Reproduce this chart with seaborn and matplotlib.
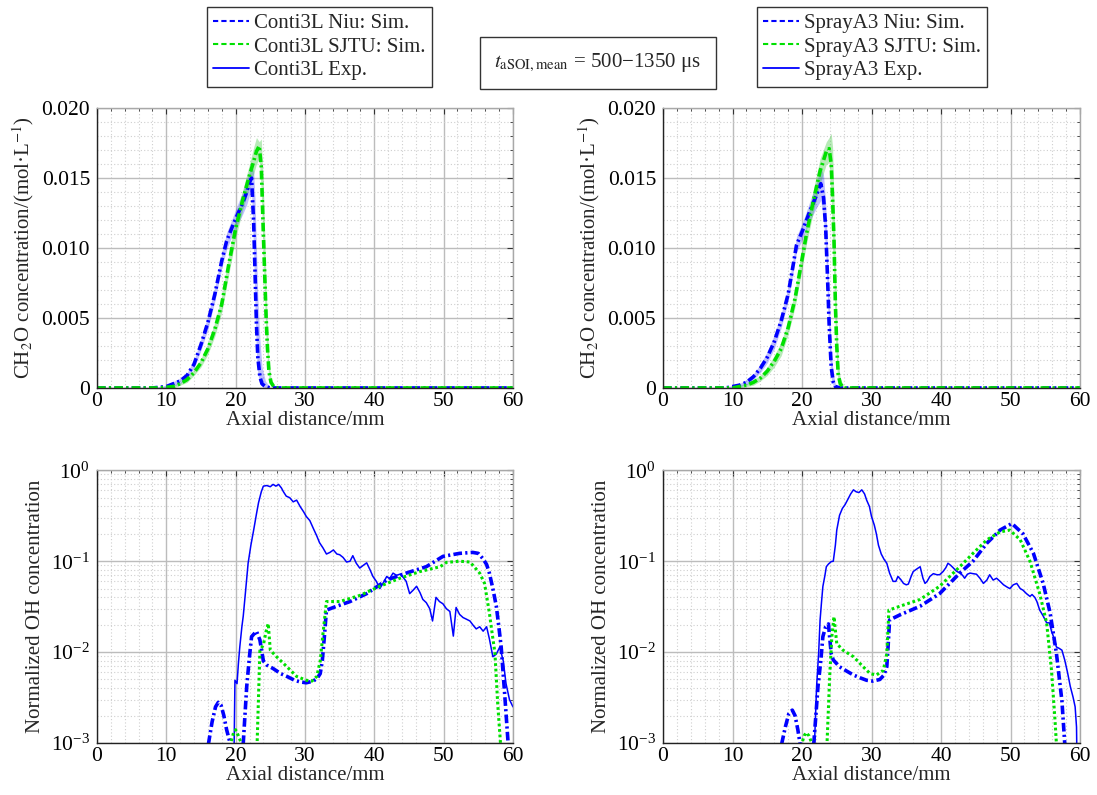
import matplotlib
matplotlib.use("Agg")
import matplotlib.pyplot as plt
import seaborn as sns
from matplotlib.lines import Line2D
from matplotlib.ticker import MultipleLocator, LogLocator, NullFormatter, FuncFormatter

# ---------------- data: CH2O (top row) ----------------
cl_niu_x = [0, 8, 10, 12, 13, 14, 15, 16, 17, 18, 18.7, 19.5, 20.1, 21.0, 21.6, 22.0, 22.3, 22.6, 22.8, 23.0, 23.2, 23.5, 23.8, 24.3, 25, 60]
cl_niu_y = [0, 0, 0.0001, 0.0005, 0.0009, 0.0017, 0.0031, 0.0047, 0.0067, 0.0091, 0.0105, 0.0115, 0.0122, 0.0132, 0.0140, 0.0147, 0.0150, 0.0118, 0.0082, 0.0046, 0.0022, 0.0008, 0.0003, 0.0001, 0, 0]
cl_niu_hi = [0, 0, 0.0002, 0.0007, 0.0011, 0.0020, 0.0035, 0.0052, 0.0072, 0.0096, 0.0111, 0.0121, 0.0129, 0.0140, 0.0149, 0.0155, 0.0159, 0.0155, 0.0135, 0.0100, 0.0065, 0.0035, 0.0015, 0.0005, 0, 0]
cl_niu_lo = [0, 0, 0, 0.0003, 0.0007, 0.0014, 0.0027, 0.0042, 0.0062, 0.0086, 0.0099, 0.0109, 0.0115, 0.0124, 0.0131, 0.0138, 0.0140, 0.0095, 0.0055, 0.0025, 0.0010, 0.0003, 0.0001, 0, 0, 0]

cl_sjtu_x = [0, 9, 11, 12, 13, 14, 15, 16, 17, 18, 19, 20, 21, 22, 22.6, 23.0, 23.4, 23.7, 24.0, 24.2, 24.4, 24.6, 24.8, 25.1, 25.5, 26, 60]
cl_sjtu_y = [0, 0, 0.0001, 0.0003, 0.0006, 0.0011, 0.0018, 0.0028, 0.0042, 0.0060, 0.0088, 0.0114, 0.0134, 0.0152, 0.0162, 0.0169, 0.0173, 0.0158, 0.0110, 0.0080, 0.0050, 0.0028, 0.0012, 0.0004, 0.0001, 0, 0]
cl_sjtu_hi = [0, 0, 0.0002, 0.0004, 0.0008, 0.0013, 0.0021, 0.0032, 0.0047, 0.0066, 0.0095, 0.0121, 0.0141, 0.0160, 0.0172, 0.0179, 0.0176, 0.0178, 0.0145, 0.0108, 0.0072, 0.0042, 0.0020, 0.0007, 0.0002, 0, 0]
cl_sjtu_lo = [0, 0, 0, 0.0002, 0.0004, 0.0009, 0.0015, 0.0024, 0.0037, 0.0054, 0.0081, 0.0107, 0.0127, 0.0144, 0.0153, 0.0160, 0.0164, 0.0140, 0.0090, 0.0060, 0.0034, 0.0018, 0.0007, 0.0002, 0, 0, 0]

sa_niu_x = [0, 9, 10, 11, 12, 13, 14, 15, 16, 17, 18, 18.8, 19.2, 20.2, 21.1, 22.1, 22.7, 23.1, 23.4, 23.7, 23.9, 24.2, 24.5, 24.8, 25.5, 60]
sa_niu_y = [0, 0, 0.0001, 0.0002, 0.0004, 0.0008, 0.0014, 0.0022, 0.0033, 0.0048, 0.0067, 0.0090, 0.0102, 0.0114, 0.0126, 0.0138, 0.0146, 0.0136, 0.0115, 0.0075, 0.0046, 0.0015, 0.0004, 0.0001, 0, 0]
sa_niu_hi = [0, 0, 0.0002, 0.0003, 0.0006, 0.0010, 0.0017, 0.0026, 0.0038, 0.0053, 0.0072, 0.0095, 0.0108, 0.0120, 0.0133, 0.0147, 0.0158, 0.0152, 0.0132, 0.0095, 0.0062, 0.0026, 0.0010, 0.0003, 0, 0]
sa_niu_lo = [0, 0, 0, 0.0001, 0.0002, 0.0006, 0.0011, 0.0018, 0.0028, 0.0043, 0.0062, 0.0085, 0.0097, 0.0108, 0.0119, 0.0129, 0.0134, 0.0120, 0.0098, 0.0058, 0.0032, 0.0007, 0.0001, 0, 0, 0]

sa_sjtu_x = [0, 10, 11, 12, 13, 14, 15, 16, 17, 18, 19, 20, 20.6, 21.6, 22.6, 23.5, 23.9, 24.2, 24.4, 24.6, 24.8, 25.0, 25.2, 25.5, 26, 60]
sa_sjtu_y = [0, 0, 0.0001, 0.0002, 0.0004, 0.0007, 0.0012, 0.0019, 0.0028, 0.0043, 0.0064, 0.0092, 0.0109, 0.0133, 0.0155, 0.0169, 0.0171, 0.0160, 0.0135, 0.0106, 0.0060, 0.0030, 0.0010, 0.0003, 0, 0]
sa_sjtu_hi = [0, 0, 0.0002, 0.0003, 0.0006, 0.0009, 0.0015, 0.0023, 0.0033, 0.0048, 0.0070, 0.0099, 0.0116, 0.0141, 0.0164, 0.0176, 0.0179, 0.0182, 0.0172, 0.0135, 0.0090, 0.0050, 0.0020, 0.0007, 0.0001, 0]
sa_sjtu_lo = [0, 0, 0, 0.0001, 0.0002, 0.0005, 0.0009, 0.0015, 0.0023, 0.0038, 0.0058, 0.0085, 0.0102, 0.0125, 0.0146, 0.0160, 0.0161, 0.0136, 0.0100, 0.0075, 0.0036, 0.0015, 0.0004, 0.0001, 0, 0]

# ---------------- data: normalized OH (bottom row) ----------------
cl_exp_x = [19.6, 19.8, 19.9, 20.2, 20.4, 20.6, 20.9, 21.1, 21.4, 21.8, 22.2, 22.6, 23.0, 23.3, 23.7, 24.0, 24.5, 25.0, 25.4, 25.8,
            26.2, 26.6, 26.9, 27.3, 27.8, 28.3, 28.8, 29.3, 29.8, 30.2, 30.7, 31.2, 31.7, 32.1, 32.6, 33.1, 33.6, 34.1, 34.6, 35.0,
            35.5, 36.0, 36.5, 36.9, 37.4, 37.9, 38.4, 38.9, 39.4, 39.8, 40.3, 40.8, 41.3, 41.8, 42.2, 42.7, 43.2, 43.7, 44.2, 44.6,
            45.1, 45.6, 46.1, 46.6, 47.0, 47.5, 48.0, 48.4, 48.9, 49.4, 49.9, 50.4, 50.9, 51.4, 51.8, 52.3, 52.8, 53.3, 53.8, 54.2,
            54.7, 55.2, 55.7, 56.2, 56.6, 57.1, 57.6, 58.1, 58.6, 59.0, 59.5, 60.0]
cl_exp_y = [1e-4, 0.0012, 0.0049, 0.0045, 0.0075, 0.0114, 0.019, 0.025, 0.044, 0.095, 0.15, 0.22, 0.33, 0.44, 0.58, 0.67, 0.68, 0.66, 0.70, 0.67,
            0.70, 0.64, 0.58, 0.52, 0.50, 0.45, 0.47, 0.40, 0.35, 0.31, 0.28, 0.23, 0.19, 0.16, 0.14, 0.12, 0.125, 0.133, 0.12, 0.118,
            0.11, 0.098, 0.100, 0.115, 0.095, 0.084, 0.090, 0.096, 0.080, 0.068, 0.060, 0.050, 0.058, 0.068, 0.064, 0.074, 0.070, 0.072, 0.066, 0.060,
            0.044, 0.048, 0.053, 0.045, 0.038, 0.035, 0.030, 0.022, 0.040, 0.036, 0.034, 0.030, 0.028, 0.015, 0.031, 0.026, 0.024, 0.023, 0.022, 0.020,
            0.018, 0.019, 0.017, 0.019, 0.014, 0.0089, 0.0095, 0.0114, 0.0080, 0.0045, 0.0030, 0.0025]

cl_oh_niu_x = [15.8, 16.1, 16.6, 17.1, 17.5, 17.9, 18.3, 18.7, 19.2, 19.5, 20.8, 21.1, 21.6, 22.0, 22.3, 22.7, 23.0, 23.5, 24.0, 24.5,
               25.4, 26.5, 27.4, 28.5, 29.3, 30.2, 31.2, 31.8, 32.2, 32.5, 32.8, 33.1, 34.6, 36.5, 38.9, 41.8, 44.6, 47.5, 49.9, 52.3,
               54.2, 55.0, 55.7, 56.2, 56.6, 57.1, 57.6, 58.0, 58.3, 58.8, 59.3, 59.6]
cl_oh_niu_y = [1e-4, 0.001, 0.0017, 0.0025, 0.0028, 0.0026, 0.0020, 0.0014, 0.001, 1e-4, 1e-4, 0.001, 0.0042, 0.009, 0.0148, 0.016, 0.017, 0.0136, 0.0080, 0.0072,
               0.0066, 0.0058, 0.0054, 0.0049, 0.0047, 0.0046, 0.0048, 0.0052, 0.0058, 0.008, 0.0148, 0.029, 0.032, 0.036, 0.044, 0.062, 0.074, 0.087, 0.113, 0.122,
               0.125, 0.122, 0.106, 0.092, 0.074, 0.050, 0.032, 0.018, 0.0114, 0.0035, 0.001, 1e-4]

cl_oh_sjtu_x = [19.0, 19.3, 19.7, 20.0, 20.4, 20.8, 21.0, 22.9, 23.1, 23.5, 24.0, 24.4, 24.7, 25.0, 25.9, 27.4, 28.8, 30.2, 31.0, 31.7,
                32.2, 32.6, 33.1, 35.0, 37.9, 40.8, 43.7, 46.6, 49.5, 50.4, 52.3, 53.8, 55.2, 55.9, 56.6, 57.0, 57.4, 57.8, 58.2, 58.5]
cl_oh_sjtu_y = [1e-4, 0.001, 0.0013, 0.0014, 0.0012, 0.001, 1e-4, 1e-4, 0.001, 0.0104, 0.012, 0.017, 0.0206, 0.0105, 0.0089, 0.0069, 0.0054, 0.0049, 0.0048, 0.0054,
                0.008, 0.016, 0.036, 0.036, 0.042, 0.053, 0.065, 0.077, 0.087, 0.097, 0.100, 0.098, 0.074, 0.057, 0.027, 0.016, 0.0098, 0.0027, 0.001, 1e-4]

sa_exp_x = [21.5, 21.8, 22.1, 22.4, 22.6, 22.8, 23.0, 23.3, 23.5, 23.8, 24.2, 24.5, 24.8, 25.0, 25.4, 25.8, 26.2, 26.6, 27.0, 27.4,
            27.8, 28.2, 28.6, 29.0, 29.3, 29.7, 30.0, 30.4, 30.7, 31.0, 31.4, 31.8, 32.2, 32.6, 33.1, 33.5, 33.8, 34.2, 34.6, 35.0,
            35.3, 35.7, 36.0, 36.5, 37.0, 37.4, 37.7, 38.0, 38.4, 38.9, 39.4, 39.8, 40.3, 40.7, 41.0, 41.4, 41.8, 42.2, 42.7, 43.1,
            43.4, 43.8, 44.2, 44.6, 45.1, 45.6, 46.1, 46.6, 47.0, 47.5, 48.0, 48.5, 49.0, 49.5, 49.9, 50.4, 50.9, 51.4, 51.8, 52.3,
            52.8, 53.1, 53.5, 53.8, 54.2, 54.7, 55.2, 55.6, 55.9, 56.3, 56.6, 57.0, 57.4, 57.8, 58.2, 58.6, 59.0, 59.3, 59.5, 59.7]
sa_exp_y = [1e-4, 0.001, 0.0042, 0.010, 0.0226, 0.035, 0.0527, 0.070, 0.087, 0.093, 0.099, 0.100, 0.15, 0.22, 0.32, 0.38, 0.42, 0.48, 0.55, 0.61,
            0.58, 0.57, 0.61, 0.55, 0.47, 0.40, 0.31, 0.25, 0.20, 0.15, 0.12, 0.105, 0.095, 0.074, 0.060, 0.060, 0.068, 0.063, 0.057, 0.055,
            0.056, 0.068, 0.077, 0.082, 0.087, 0.065, 0.057, 0.060, 0.068, 0.073, 0.071, 0.071, 0.077, 0.085, 0.095, 0.090, 0.084, 0.078, 0.074, 0.070,
            0.065, 0.072, 0.074, 0.073, 0.072, 0.065, 0.057, 0.062, 0.071, 0.062, 0.065, 0.060, 0.055, 0.052, 0.050, 0.055, 0.057, 0.050, 0.048, 0.044,
            0.041, 0.043, 0.040, 0.036, 0.029, 0.025, 0.021, 0.021, 0.017, 0.014, 0.0114, 0.0110, 0.0105, 0.0082, 0.0060, 0.0042, 0.0032, 0.0025, 0.0015, 1e-4]

sa_oh_niu_x = [16.8, 17.1, 17.6, 18.1, 18.6, 19.0, 19.4, 19.7, 20.0, 21.5, 21.7, 22.3, 22.7, 23.0, 23.4, 23.8, 24.2, 24.5, 25.4, 26.4,
               27.4, 28.4, 29.3, 30.2, 31.2, 31.8, 32.2, 32.4, 32.6, 34.1, 37.0, 39.8, 42.7, 44.6, 46.6, 48.5, 50.2, 51.8, 53.3, 54.7,
               55.7, 56.6, 57.4, 57.8, 58.1]
sa_oh_niu_y = [1e-4, 0.001, 0.0015, 0.0021, 0.0023, 0.0020, 0.0014, 0.001, 1e-4, 1e-4, 0.001, 0.0042, 0.008, 0.0148, 0.019, 0.0204, 0.0096, 0.0082, 0.0069, 0.0062,
               0.0056, 0.0052, 0.0049, 0.0048, 0.0050, 0.0056, 0.0069, 0.012, 0.0226, 0.0257, 0.032, 0.044, 0.074, 0.10, 0.158, 0.22, 0.26, 0.20, 0.122, 0.057,
               0.027, 0.0098, 0.0029, 0.001, 1e-4]

sa_oh_sjtu_x = [19.7, 20.0, 20.3, 20.6, 21.0, 21.4, 21.6, 23.4, 23.6, 24.0, 24.3, 24.6, 25.0, 25.9, 27.4, 28.8, 29.8, 30.7, 31.7, 32.2,
                32.5, 34.1, 37.0, 39.8, 42.7, 44.6, 46.6, 48.5, 49.9, 51.4, 52.8, 54.2, 55.2, 55.9, 56.4, 56.6, 56.9]
sa_oh_sjtu_y = [1e-4, 0.001, 0.0012, 0.0013, 0.0012, 0.001, 1e-4, 1e-4, 0.001, 0.0058, 0.015, 0.0245, 0.0124, 0.0105, 0.0089, 0.0069, 0.0058, 0.0056, 0.0063, 0.0096,
                0.029, 0.032, 0.038, 0.053, 0.087, 0.122, 0.172, 0.21, 0.22, 0.172, 0.10, 0.044, 0.021, 0.0063, 0.0018, 0.001, 1e-4]

labels_left = ["Conti3L Niu: Sim.", "Conti3L SJTU: Sim.", "Conti3L Exp."]
labels_right = ["SprayA3 Niu: Sim.", "SprayA3 SJTU: Sim.", "SprayA3 Exp."]
x_ticks = [0, 10, 20, 30, 40, 50, 60]

# ---------------- style ----------------
sns.set_style("white")
plt.rcParams["font.family"] = ["Liberation Serif", "DejaVu Serif"]
plt.rcParams["mathtext.fontset"] = "stix"
plt.rcParams["font.size"] = 15

BLUE = "#0000ff"
GREEN = "#00e000"
DASHDOT = (0, (2.4, 0.9, 0.6, 0.9))
DOTTED = (0, (0.9, 0.9))
FS = 15
TFS = 15.5

fig = plt.figure(figsize=(10.97, 7.95), dpi=100)
ax_tl = fig.add_axes([0.0884, 0.512, 0.3792, 0.352])
ax_tr = fig.add_axes([0.6044, 0.512, 0.3801, 0.352])
ax_bl = fig.add_axes([0.0884, 0.0654, 0.3792, 0.343])
ax_br = fig.add_axes([0.6044, 0.0654, 0.3801, 0.343])


def style(ax, log=False):
    ax.set_xlim(0, 60)
    ax.set_xticks(x_ticks)
    ax.xaxis.set_minor_locator(MultipleLocator(2))
    if log:
        ax.set_yscale("log")
        ax.set_ylim(1e-3, 1)
        ax.yaxis.set_major_locator(LogLocator(base=10, numticks=10))
        ax.yaxis.set_minor_locator(LogLocator(base=10, subs=range(2, 10), numticks=10))
        ax.yaxis.set_minor_formatter(NullFormatter())
    else:
        ax.set_ylim(0, 0.02)
        ax.yaxis.set_major_locator(MultipleLocator(0.005))
        ax.yaxis.set_minor_locator(MultipleLocator(0.001))
        ax.yaxis.set_major_formatter(FuncFormatter(lambda v, p: "0" if abs(v) < 1e-12 else f"{v:.3f}"))
    ax.grid(which="major", color="#bcbcbc", lw=1.0, ls="-")
    ax.grid(which="minor", color="#cfcfcf", lw=0.8, ls=(0, (1, 2)))
    ax.set_axisbelow(True)
    ax.tick_params(which="both", direction="in", top=True, right=True,
                   labelsize=TFS, colors="#333333", labelcolor="black")
    ax.tick_params(axis="y", pad=5)
    ax.tick_params(axis="x", pad=3)
    ax.tick_params(which="major", length=4)
    ax.tick_params(which="minor", length=2)
    for s in ["left", "bottom"]:
        ax.spines[s].set_color("#222222")
        ax.spines[s].set_linewidth(1.0)
    for s in ["top", "right"]:
        ax.spines[s].set_color("#a8a8a8")
        ax.spines[s].set_linewidth(1.0)
    ax.set_xlabel("Axial distance/mm", fontsize=FS, labelpad=0)


def top_panel(ax, nx, ny, nhi, nlo, sx, sy, shi, slo):
    ax.fill_between(nx, nlo, nhi, color=BLUE, alpha=0.25, lw=0)
    ax.fill_between(sx, slo, shi, color="#20c020", alpha=0.32, lw=0)
    sns.lineplot(x=nx, y=ny, ax=ax, color=BLUE, lw=2.6, linestyle=DASHDOT,
                 sort=False, estimator=None)
    sns.lineplot(x=sx, y=sy, ax=ax, color=GREEN, lw=2.6, linestyle=DASHDOT,
                 sort=False, estimator=None)
    style(ax)
    ax.set_ylabel(r"CH$_2$O concentration/(mol·L$^{-1}$)", fontsize=FS, labelpad=4)


def bottom_panel(ax, ex, ey, nx, ny, sx, sy):
    sns.lineplot(x=ex, y=ey, ax=ax, color=BLUE, lw=1.1, sort=False, estimator=None)
    sns.lineplot(x=nx, y=ny, ax=ax, color=BLUE, lw=2.6, linestyle=DASHDOT,
                 sort=False, estimator=None)
    sns.lineplot(x=sx, y=sy, ax=ax, color=GREEN, lw=2.2, linestyle=DOTTED,
                 sort=False, estimator=None)
    style(ax, log=True)
    ax.set_ylabel("Normalized OH concentration", fontsize=FS, labelpad=4)


top_panel(ax_tl, cl_niu_x, cl_niu_y, cl_niu_hi, cl_niu_lo, cl_sjtu_x, cl_sjtu_y, cl_sjtu_hi, cl_sjtu_lo)
top_panel(ax_tr, sa_niu_x, sa_niu_y, sa_niu_hi, sa_niu_lo, sa_sjtu_x, sa_sjtu_y, sa_sjtu_hi, sa_sjtu_lo)
bottom_panel(ax_bl, cl_exp_x, cl_exp_y, cl_oh_niu_x, cl_oh_niu_y, cl_oh_sjtu_x, cl_oh_sjtu_y)
bottom_panel(ax_br, sa_exp_x, sa_exp_y, sa_oh_niu_x, sa_oh_niu_y, sa_oh_sjtu_x, sa_oh_sjtu_y)

# ---------------- legends ----------------
def handles():
    return [Line2D([], [], color=BLUE, lw=1.5, ls=(0, (2.5, 1.5))),
            Line2D([], [], color=GREEN, lw=1.5, ls=(0, (2.5, 1.5))),
            Line2D([], [], color=BLUE, lw=1.3)]


for labels, anchor in [(labels_left, (0.1887, 0.991)), (labels_right, (0.690, 0.991))]:
    leg = fig.legend(handles(), labels, loc="upper left", bbox_to_anchor=anchor,
                     frameon=True, fancybox=False, edgecolor="#333333", framealpha=1,
                     handlelength=1.7, handletextpad=0.25, borderpad=0.3,
                     labelspacing=0.2, borderaxespad=0, fontsize=FS)
    leg.get_frame().set_linewidth(1.0)

fig.text(0.545, 0.921, r"$t_{\mathrm{aSOI,mean}}$ = 500−1350 μs", ha="center", va="center",
         fontsize=FS, bbox=dict(boxstyle="square,pad=0.7", fc="white", ec="#333333", lw=1.0))

fig.savefig("out.png", dpi=100)
